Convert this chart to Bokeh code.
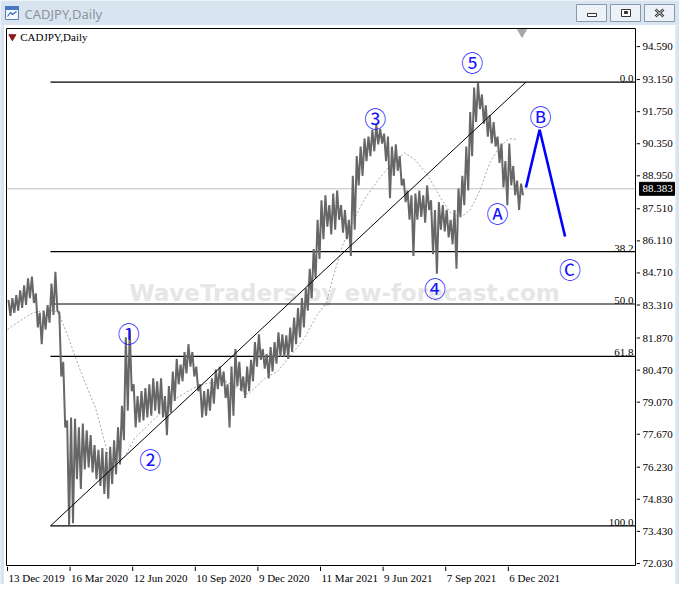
from bokeh.plotting import figure
from bokeh.models import Range1d, Span
from bokeh.layouts import column, row
from bokeh.core.properties import value
from bokeh.embed import file_html
from bokeh.resources import INLINE

symbol = "CADJPY,Daily"

# bar index (1 unit = 1 daily bar slot); groups of 4 bars: high / low
bar_x = list(range(2, 530, 4))
bar_high = [83.53, 83.61, 83.74, 83.95, 84.17, 84.47, 84.55, 83.82, 82.97, 83.06,
            83.31, 84.25, 84.76, 82.97, 80.83, 78.27, 78.40, 78.35, 77.97, 78.14,
            77.84, 77.63, 77.20, 76.99, 77.07, 76.90, 77.12, 77.41, 77.97, 78.91,
            81.90, 82.24, 79.85, 79.34, 79.55, 79.68, 79.85, 80.11, 79.98, 80.11,
            79.34, 79.77, 80.41, 80.96, 80.71, 81.26, 81.60, 81.26, 80.62, 79.85,
            79.55, 79.64, 80.11, 80.49, 80.62, 80.41, 79.85, 80.62, 81.39, 80.83,
            80.19, 80.62, 80.92, 81.69, 82.03, 81.39, 81.17, 81.47, 81.69, 82.12,
            82.03, 81.99, 82.33, 82.76, 83.18, 83.61, 84.04, 84.89, 85.75, 87.03,
            87.88, 88.10, 87.67, 88.18, 88.31, 87.67, 87.46, 87.03, 88.95, 89.81,
            90.23, 90.58, 90.66, 90.96, 91.17, 91.00, 90.79, 90.66, 90.23, 90.32,
            89.81, 88.82, 88.31, 88.10, 88.18, 88.31, 88.10, 88.53, 87.88, 87.46,
            87.80, 87.67, 87.46, 87.03, 87.46, 88.40, 88.95, 90.23, 91.73, 92.80,
            93.01, 92.50, 92.03, 91.60, 91.30, 90.66, 90.36, 89.59, 90.36, 89.38,
            88.74, 88.61]
bar_low = [82.84, 82.97, 83.06, 83.18, 83.31, 83.61, 83.40, 82.33, 81.60, 82.24,
           82.54, 82.88, 83.06, 80.19, 77.97, 73.70, 73.78, 75.71, 75.28, 76.13,
           76.22, 76.00, 75.71, 75.41, 75.06, 74.85, 75.49, 75.92, 76.35, 77.41,
           78.70, 79.55, 77.97, 78.18, 78.27, 78.40, 78.48, 78.70, 78.57, 78.40,
           77.63, 78.61, 79.12, 79.85, 79.98, 80.32, 80.62, 80.19, 79.55, 78.40,
           78.48, 78.70, 79.00, 79.64, 79.77, 79.25, 77.97, 78.48, 79.77, 79.55,
           79.25, 79.55, 79.98, 80.62, 80.92, 80.53, 80.11, 80.41, 80.75, 81.05,
           81.05, 80.96, 81.26, 81.60, 81.90, 82.33, 83.06, 83.61, 84.47, 85.32,
           86.18, 86.73, 86.39, 86.60, 87.03, 86.47, 86.18, 85.45, 86.60, 88.53,
           88.95, 89.59, 89.81, 90.02, 90.32, 90.36, 89.59, 87.97, 88.95, 89.17,
           88.53, 87.80, 87.03, 85.45, 87.03, 87.16, 86.90, 87.46, 85.53, 84.68,
           86.60, 86.52, 86.26, 85.96, 84.89, 87.16, 87.67, 88.31, 89.81, 91.30,
           91.86, 91.22, 90.66, 90.36, 90.23, 89.51, 88.44, 87.67, 88.53, 88.10,
           87.46, 88.10]

# moving average (dotted)
ma_x = [0, 13, 26, 36, 48, 53, 63, 70, 80, 90, 98, 103, 110, 120, 130, 156, 173,
        190, 203, 223, 236, 246, 263, 276, 290, 303, 316, 326, 333, 343, 353, 366,
        380, 393, 406, 416, 430, 443, 453, 463, 473, 483, 493, 503, 513, 521]
ma_y = [82.24, 82.63, 82.97, 83.06, 83.06, 82.88, 81.82, 80.96, 79.85, 78.82,
        77.54, 76.77, 76.43, 76.69, 77.50, 78.57, 79.25, 79.68, 79.89, 79.98,
        79.68, 79.42, 80.11, 80.41, 81.13, 81.82, 82.84, 83.40, 84.55, 85.96,
        86.94, 88.01, 88.82, 89.51, 89.94, 89.68, 88.95, 87.97, 87.33, 87.12,
        87.46, 88.31, 89.51, 90.23, 90.58, 90.53]

date_ticks = [0, 64, 128, 192, 256, 320, 384, 448, 512]
date_labels = ["13 Dec 2019", "16 Mar 2020", "12 Jun 2020", "10 Sep 2020",
               "9 Dec 2020", "11 Mar 2021", "9 Jun 2021", "7 Sep 2021", "6 Dec 2021"]
price_ticks = [72.03, 73.43, 74.83, 76.23, 77.67, 79.07, 80.47, 81.87, 83.31,
               84.71, 86.11, 87.51, 88.95, 90.35, 91.75, 93.15, 94.59]
last_price = 88.383

fib_x = [44, 530]
fib_price = [73.67, 93.04]
fib_levels = [0.0, 38.2, 50.0, 61.8, 100.0]
fib_labels = ["0.0", "38.2", "50.0", "61.8", "100.0"]

proj_x = [530, 544, 570]
proj_y = [88.44, 90.96, 86.30]

wave_text = ["①", "②", "③", "④", "⑤", "Ⓐ", "Ⓑ", "Ⓒ"]
wave_x = [124, 146, 376, 437, 475, 501, 545, 575]
wave_y = [82.12, 76.64, 91.52, 84.08, 93.97, 87.35, 91.60, 84.94]

watermark = "WaveTraders by ew-forecast.com"

X_MIN, X_MAX = -1, 642
Y_MIN, Y_MAX = 71.94, 95.38
CHROME = "#d9e4f1"
AXFONT = "Liberation Sans Narrow"
W = 679
MAIN_W, MAIN_H = 632, 541
TOP_B, BOT_B = 3, 1
LAB_H = 18
FRAME_H = MAIN_H - TOP_B - BOT_B


def bare(fig, bg="white"):
    fig.xgrid.visible = False
    fig.ygrid.visible = False
    fig.outline_line_color = None
    fig.background_fill_color = bg
    fig.border_fill_color = bg
    return fig


# ---------------- main chart frame ----------------
p = figure(width=MAIN_W, height=MAIN_H, x_range=Range1d(X_MIN, X_MAX),
           y_range=Range1d(Y_MIN, Y_MAX), x_axis_location=None,
           y_axis_location=None, toolbar_location=None, output_backend="svg",
           min_border_left=2, min_border_right=1, min_border_top=TOP_B,
           min_border_bottom=BOT_B)
bare(p)
p.outline_line_color = "black"
p.outline_line_width = 1

# watermark
p.text(x=[(X_MIN + X_MAX) / 2 + 24], y=[83.82], text=[watermark],
       text_font=value("DejaVu Sans"), text_font_style="bold",
       text_font_size="23px", text_color="#e6e6e6",
       text_align="center", text_baseline="middle")

# current price line
p.add_layout(Span(location=last_price, dimension="width", line_color="#c0c0c0",
                  line_width=1, level="underlay"))

# fibonacci levels
hi, lo = fib_price[1], fib_price[0]
lev_y = [hi - lv / 100.0 * (hi - lo) for lv in fib_levels]
p.segment(x0=[fib_x[0]] * len(lev_y), x1=[X_MAX] * len(lev_y), y0=lev_y, y1=lev_y,
          line_color="black", line_width=1.2)
p.text(x=[X_MAX - 2] * len(lev_y), y=lev_y, text=fib_labels,
       text_font=value(AXFONT), text_font_size="11px", text_color="black",
       text_align="right", text_baseline="bottom")

# moving average
p.line(ma_x, ma_y, line_color="#a6a6a6", line_width=1, line_dash="2 2")

# price bars: each 4-bar group drawn as a high->low stroke (dense bar look)
zz_x, zz_y = [], []
for bx_, h_, l_ in zip(bar_x, bar_high, bar_low):
    zz_x += [bx_ - 1, bx_ + 1]
    zz_y += [h_, l_]
p.line(zz_x, zz_y, line_color="#676767", line_width=2.0)

# fib diagonal
p.line(fib_x, fib_price, line_color="black", line_width=1)

# projection
p.line(proj_x, proj_y, line_color="#0000ff", line_width=2.6)

# wave labels
p.text(x=wave_x, y=wave_y, text=wave_text, text_font=value("Noto Sans CJK JP"),
       text_font_size="22px", text_color="#1414ff", text_align="center",
       text_baseline="middle")

# header inside chart
p.scatter(x=[5], y=[95.02], marker="inverted_triangle", size=7,
          fill_color="#8b1a1a", line_color="#8b1a1a")
p.text(x=[13], y=[95.02], text=[symbol], text_font=value(AXFONT),
       text_font_size="11px", text_color="black", text_baseline="middle")
p.scatter(x=[526], y=[95.22], marker="inverted_triangle", size=9,
          fill_color="#a8a8a8", line_color="#a8a8a8")

# ---------------- date scale (shares the chart's x scale) ----------------
lab = figure(width=MAIN_W, height=LAB_H, x_range=p.x_range, y_range=Range1d(0, LAB_H),
             x_axis_location=None, y_axis_location=None, toolbar_location=None,
             output_backend="svg", min_border_left=2, min_border_right=1,
             min_border_top=0, min_border_bottom=0)
bare(lab)
lab.segment(x0=date_ticks, x1=date_ticks, y0=[LAB_H] * len(date_ticks),
            y1=[LAB_H - 4.5] * len(date_ticks), line_color="black", line_width=1)
lab.text(x=date_ticks, y=[7] * len(date_ticks), text=date_labels,
         text_font=value(AXFONT), text_font_size="11px", text_color="black",
         text_align="left", text_baseline="middle", x_offset=1)

# ---------------- price scale (same price-per-pixel as the chart) ----------------
per_px = (Y_MAX - Y_MIN) / FRAME_H
ps_frame_h = MAIN_H + LAB_H - TOP_B
ps_ymin = Y_MAX - per_px * ps_frame_h
ps = figure(width=39, height=MAIN_H + LAB_H, x_range=Range1d(0, 39),
            y_range=Range1d(ps_ymin, Y_MAX),
            x_axis_location=None, y_axis_location=None, toolbar_location=None,
            output_backend="svg", min_border_left=0, min_border_right=0,
            min_border_top=TOP_B, min_border_bottom=0)
bare(ps)
ps.segment(x0=[0] * len(price_ticks), x1=[3.5] * len(price_ticks),
           y0=price_ticks, y1=price_ticks, line_color="black", line_width=1)
ps.text(x=[6] * len(price_ticks), y=price_ticks,
        text=[f"{t:.3f}" for t in price_ticks], text_font=value(AXFONT),
        text_font_size="11px", text_color="black", text_align="left",
        text_baseline="middle")
ps.rect(x=[20.5], y=[last_price], width=35, height=13, height_units="screen",
        fill_color="black", line_color="black")
ps.text(x=[6], y=[last_price], text=[f"{last_price:.3f}"], text_font=value(AXFONT),
        text_font_size="11px", text_color="white", text_align="left",
        text_baseline="middle")

# ---------------- window chrome ----------------
tb = figure(width=W, height=25, x_range=Range1d(0, W), y_range=Range1d(25, 0),
            x_axis_location=None, y_axis_location=None,
            toolbar_location=None, output_backend="svg", min_border=0)
bare(tb, CHROME)
tb.quad(left=[5], right=[18], top=[6], bottom=[19], fill_color="#f4f8fc",
        line_color="#5a7db0")
tb.quad(left=[5], right=[18], top=[6], bottom=[9], fill_color="#4a78c0",
        line_color="#4a78c0")
tb.multi_line(xs=[[7, 10, 12, 16]], ys=[[16, 12, 14, 11]], line_color="#3a6ab5",
              line_width=1.2)
tb.text(x=[24], y=[13], text=[symbol], text_font=value("Noto Sans"),
        text_font_size="13px", text_color="#8d939a", text_baseline="middle")
bx = [576, 610, 644]
tb.quad(left=bx, right=[b + 30 for b in bx], top=[4] * 3, bottom=[21] * 3,
        fill_color="#edf2f8", line_color="#8a98ab")
tb.quad(left=[587], right=[596], top=[13], bottom=[16], fill_color="white",
        line_color="#333333")
tb.quad(left=[621], right=[630], top=[9], bottom=[16], fill_color="white",
        line_color="#333333")
tb.quad(left=[624], right=[627], top=[11], bottom=[13], fill_color="#333333",
        line_color="#333333")
tb.multi_line(xs=[[655, 663], [655, 663]], ys=[[9, 16], [16, 9]],
              line_color="#333333", line_width=2.5)
tb.multi_line(xs=[[655, 663], [655, 663]], ys=[[9, 16], [16, 9]],
              line_color="white", line_width=0.8)


def strip(w, h):
    s = figure(width=w, height=h, x_range=Range1d(0, 1), y_range=Range1d(0, 1),
               x_axis_location=None, y_axis_location=None,
               toolbar_location=None, output_backend="svg", min_border=0)
    bare(s, CHROME)
    s.quad(left=[0], right=[1], top=[1], bottom=[0], fill_color=CHROME,
           line_color=None)
    return s


inner = row(column(p, lab), ps)
H_IN = MAIN_H + LAB_H
layout = column(tb, row(strip(4, H_IN), inner, strip(4, H_IN)), strip(W, 5))

open("out.html", "w").write(file_html(layout, INLINE))
